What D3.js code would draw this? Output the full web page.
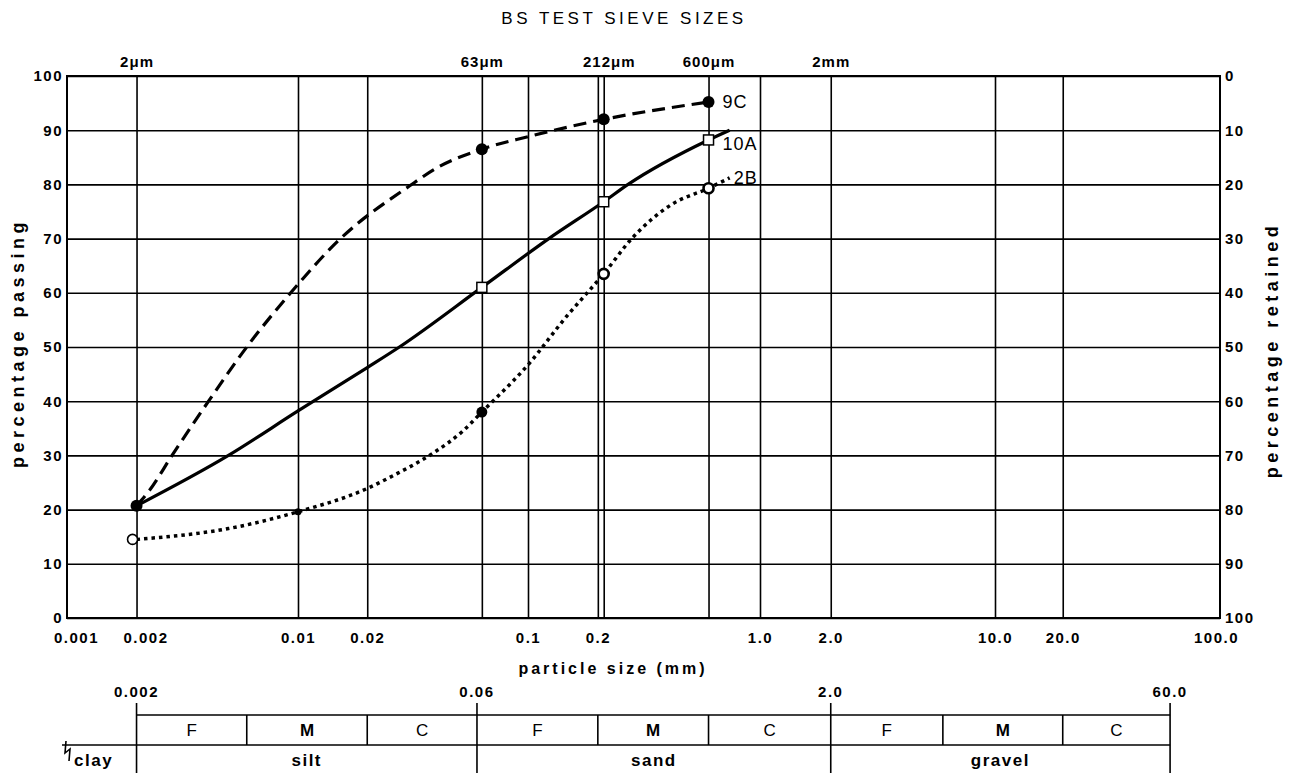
<!DOCTYPE html>
<html>
<head>
<meta charset="utf-8">
<script src="https://cdn.jsdelivr.net/npm/d3@7"></script>
<style>
    body { margin: 0; background: #fff; }
    svg { font-family: "Liberation Sans", Arial, Helvetica, sans-serif; }
</style>
</head>
<body>
<svg width="1291" height="773"></svg>
<script>
// grid of the particle size chart
const gridSizes = [0.002, 0.01, 0.02, 0.063, 0.1, 0.2, 0.212, 0.6, 1, 2, 10, 20];
const xTickValues = [0.001, 0.002, 0.01, 0.02, 0.1, 0.2, 1, 2, 10, 20, 100];
const xTickLabels = ["0.001", "0.002", "0.01", "0.02", "0.1", "0.2", "1.0", "2.0", "10.0", "20.0", "100.0"];
const yTicks = [0, 10, 20, 30, 40, 50, 60, 70, 80, 90, 100];

// BS sieve sizes along the top
const sieveSizes = [0.002, 0.063, 0.212, 0.6, 2];
const sieveLabels = ["2μm", "63μm", "212μm", "600μm", "2mm"];

// curves (size mm, percentage passing)
const trace9C = [[0.002, 20.7], [0.00227, 23.5], [0.00285, 30], [0.0041, 40], [0.006, 50], [0.0093, 60],
    [0.0153, 70], [0.0305, 79.7], [0.04, 83], [0.063, 86.5], [0.1, 88.8], [0.212, 92], [0.6, 95.2]];
const trace10A = [[0.002, 20.7], [0.005, 30], [0.01, 38.2], [0.02, 46.2], [0.0276, 50], [0.063, 61],
    [0.123, 70], [0.212, 76.8], [0.27, 80], [0.6, 88.2], [0.74, 90]];
const trace2B = [[0.002, 14.5], [0.005, 16.5], [0.01, 19.6], [0.02, 23.9], [0.026, 26.3], [0.0386, 30.4],
    [0.0518, 34.4], [0.063, 38], [0.1, 46.7], [0.149, 56], [0.175, 59.4], [0.212, 63.5], [0.28, 70],
    [0.416, 76.3], [0.6, 79.3], [0.74, 81.2]];

// plotted test points
const points9C = [[0.063, 86.5], [0.212, 92], [0.6, 95.2]];
const points10A = [[0.063, 61], [0.212, 76.8], [0.6, 88.2]];
const points2BOpen = [[0.002, 14.5], [0.212, 63.5], [0.6, 79.3]];
const points2BFilled = [[0.063, 38]];
const points2BSmall = [[0.01, 19.6]];
const startPoint = [[0.002, 20.7]];

const curveNames = ["9C", "10A", "2B"];
const curveLabelAt = [[0.6, 95.2], [0.6, 88.2], [0.74, 81.2]];

// classification bar below
const classBounds = [0.002, 0.006, 0.02, 0.06, 0.2, 0.6, 2, 6, 20, 60];
const subLabels = ["F", "M", "C", "F", "M", "C", "F", "M", "C"];
const classNames = ["silt", "sand", "gravel"];
const classEdges = [0.002, 0.06, 2, 60];
const classEdgeLabels = ["0.002", "0.06", "2.0", "60.0"];

const plot = {left: 67, right: 1220, top: 76, bottom: 618};

const svg = d3.select("svg");

// log scale, one piece per decade as on the printed sheet
const x = d3.scaleLog()
    .domain([0.001, 0.01, 0.1, 1, 10, 100])
    .range([plot.left, 298, 528, 760, 995, plot.right]);
const y = d3.scaleLinear().domain([0, 100]).range([plot.bottom, plot.top]);
const yRet = d3.scaleLinear().domain([100, 0]).range([plot.bottom, plot.top]);

const labelStyle = g => g.style("font-size", "15px").style("font-weight", "bold").style("letter-spacing", "1.5px");

// title
svg.append("text")
    .attr("x", 624).attr("y", 24)
    .attr("text-anchor", "middle")
    .style("font-size", "17px")
    .style("letter-spacing", "3.5px")
    .text("BS TEST SIEVE SIZES");

// vertical grid
svg.append("g")
    .attr("transform", "translate(0," + plot.bottom + ")")
    .call(d3.axisBottom(x).tickValues(gridSizes).tickSize(-(plot.bottom - plot.top)).tickFormat(""))
    .call(g => g.select(".domain").remove())
    .selectAll("line").attr("stroke", "#000").attr("stroke-width", 1.6);

// horizontal grid + left labels
svg.append("g")
    .attr("transform", "translate(" + plot.left + ",0)")
    .call(d3.axisLeft(y).tickValues(yTicks).tickSize(-(plot.right - plot.left)).tickPadding(4))
    .call(g => g.select(".domain").remove())
    .call(g => g.selectAll("line").attr("stroke", "#000").attr("stroke-width", 1.6))
    .call(g => g.selectAll("text").attr("fill", "#000").call(labelStyle));

// right labels (percentage retained)
svg.append("g")
    .attr("transform", "translate(" + plot.right + ",0)")
    .call(d3.axisRight(yRet).tickValues(yTicks).tickSize(0).tickPadding(5))
    .call(g => g.select(".domain").remove())
    .call(g => g.selectAll("text").attr("fill", "#000").call(labelStyle));

// frame
svg.append("rect")
    .attr("x", plot.left).attr("y", plot.top)
    .attr("width", plot.right - plot.left).attr("height", plot.bottom - plot.top)
    .attr("fill", "none").attr("stroke", "#000").attr("stroke-width", 2);

// bottom tick labels
svg.append("g")
    .attr("transform", "translate(0," + plot.bottom + ")")
    .call(d3.axisBottom(x).tickValues(xTickValues).tickSize(0).tickPadding(14)
        .tickFormat((d, i) => xTickLabels[i]))
    .call(g => g.select(".domain").remove())
    .call(g => g.selectAll("text").attr("fill", "#000")
        .attr("dx", (d, i) => i < 2 ? 9 : (i === 10 ? -4 : 0))
        .call(labelStyle));

// sieve sizes on top
svg.append("g")
    .attr("transform", "translate(0," + plot.top + ")")
    .call(d3.axisTop(x).tickValues(sieveSizes).tickSize(0).tickPadding(9)
        .tickFormat((d, i) => sieveLabels[i]))
    .call(g => g.select(".domain").remove())
    .call(g => g.selectAll("text").attr("fill", "#000")
        .attr("dx", (d, i) => i === 2 ? 5 : 0)
        .style("font-size", "15px").style("font-weight", "bold").style("letter-spacing", "1px"));

// axis titles
svg.append("text")
    .attr("transform", "translate(24,343) rotate(-90)")
    .attr("text-anchor", "middle")
    .style("font-size", "18px").style("font-weight", "bold").style("letter-spacing", "4.5px")
    .text("percentage passing");
svg.append("text")
    .attr("transform", "translate(1278,350) rotate(-90)")
    .attr("text-anchor", "middle")
    .style("font-size", "18px").style("font-weight", "bold").style("letter-spacing", "4.5px")
    .text("percentage retained");
svg.append("text")
    .attr("x", 613).attr("y", 674)
    .attr("text-anchor", "middle")
    .style("font-size", "16px").style("font-weight", "bold").style("letter-spacing", "3px")
    .text("particle size  (mm)");

// curves
const line = d3.line()
    .x(d => x(d[0]))
    .y(d => y(d[1]))
    .curve(d3.curveMonotoneX);

svg.append("path").datum(trace9C).attr("d", line)
    .attr("fill", "none").attr("stroke", "#000").attr("stroke-width", 3.2)
    .attr("stroke-dasharray", "13,7");
svg.append("path").datum(trace10A).attr("d", line)
    .attr("fill", "none").attr("stroke", "#000").attr("stroke-width", 3.2);
svg.append("path").datum(trace2B).attr("d", line)
    .attr("fill", "none").attr("stroke", "#000").attr("stroke-width", 3.5)
    .attr("stroke-dasharray", "3.5,4");

// markers
svg.selectAll(".p9c").data(points9C.concat(startPoint)).enter().append("circle")
    .attr("cx", d => x(d[0])).attr("cy", d => y(d[1]))
    .attr("r", 6).attr("fill", "#000");
svg.selectAll(".p10a").data(points10A).enter().append("rect")
    .attr("x", d => x(d[0]) - 5).attr("y", d => y(d[1]) - 5)
    .attr("width", 10).attr("height", 10)
    .attr("fill", "#fff").attr("stroke", "#000").attr("stroke-width", 1.5);
svg.selectAll(".p2bo").data(points2BOpen).enter().append("circle")
    .attr("cx", (d, i) => x(d[0]) - (i === 0 ? 4 : 0)).attr("cy", d => y(d[1]))
    .attr("r", 5).attr("fill", "#fff").attr("stroke", "#000")
    .attr("stroke-width", (d, i) => i === 0 ? 1.6 : 2.6);
svg.selectAll(".p2bf").data(points2BFilled).enter().append("circle")
    .attr("cx", d => x(d[0])).attr("cy", d => y(d[1]))
    .attr("r", 5.5).attr("fill", "#000");
svg.selectAll(".p2bs").data(points2BSmall).enter().append("circle")
    .attr("cx", d => x(d[0])).attr("cy", d => y(d[1]))
    .attr("r", 3.5).attr("fill", "#000");

// curve names
svg.selectAll(".cname").data(curveNames).enter().append("text")
    .attr("x", (d, i) => x(curveLabelAt[i][0]) + (i === 2 ? 4 : 14))
    .attr("y", (d, i) => y(curveLabelAt[i][1]) + (i === 1 ? 4 : 0))
    .attr("dy", "0.36em")
    .style("font-size", "18px").style("letter-spacing", "1px")
    .text(d => d);

// classification bar
const bar = {top: 715, mid: 745, bottom: 773, tickTop: 703};

svg.append("line")
    .attr("x1", x(classEdges[0])).attr("x2", x(classEdges[3]))
    .attr("y1", bar.top).attr("y2", bar.top)
    .attr("stroke", "#000").attr("stroke-width", 1.6);
svg.append("line")
    .attr("x1", 62).attr("x2", x(classEdges[3]))
    .attr("y1", bar.mid).attr("y2", bar.mid)
    .attr("stroke", "#000").attr("stroke-width", 1.6);

svg.selectAll(".edge").data(classEdges).enter().append("line")
    .attr("x1", d => x(d)).attr("x2", d => x(d))
    .attr("y1", bar.tickTop).attr("y2", bar.bottom)
    .attr("stroke", "#000").attr("stroke-width", 1.6);

svg.selectAll(".sub").data(classBounds.filter((d, i) => i % 3 !== 0)).enter().append("line")
    .attr("x1", d => x(d)).attr("x2", d => x(d))
    .attr("y1", bar.top).attr("y2", bar.mid)
    .attr("stroke", "#000").attr("stroke-width", 1.6);

svg.selectAll(".edgeLabel").data(classEdgeLabels).enter().append("text")
    .attr("x", (d, i) => x(classEdges[i]))
    .attr("y", 697)
    .attr("text-anchor", "middle")
    .call(labelStyle)
    .text(d => d);

svg.selectAll(".subLabel").data(subLabels).enter().append("text")
    .attr("x", (d, i) => (x(classBounds[i]) + x(classBounds[i + 1])) / 2)
    .attr("y", 736)
    .attr("text-anchor", "middle")
    .style("font-size", "17px")
    .style("font-weight", d => d === "M" ? "bold" : "normal")
    .text(d => d);

svg.selectAll(".className").data(classNames).enter().append("text")
    .attr("x", (d, i) => (x(classEdges[i]) + x(classEdges[i + 1])) / 2)
    .attr("y", 766)
    .attr("text-anchor", "middle")
    .style("font-size", "17px").style("font-weight", "bold").style("letter-spacing", "1.5px")
    .text(d => d);

// clay, with the break symbol
svg.append("path")
    .attr("d", "M66,741 L65,753 L70,749 L69,761")
    .attr("fill", "none").attr("stroke", "#000").attr("stroke-width", 1.6);
svg.append("text")
    .attr("x", 74).attr("y", 766)
    .style("font-size", "17px").style("font-weight", "bold").style("letter-spacing", "1.5px")
    .text("clay");
</script>
</body>
</html>
